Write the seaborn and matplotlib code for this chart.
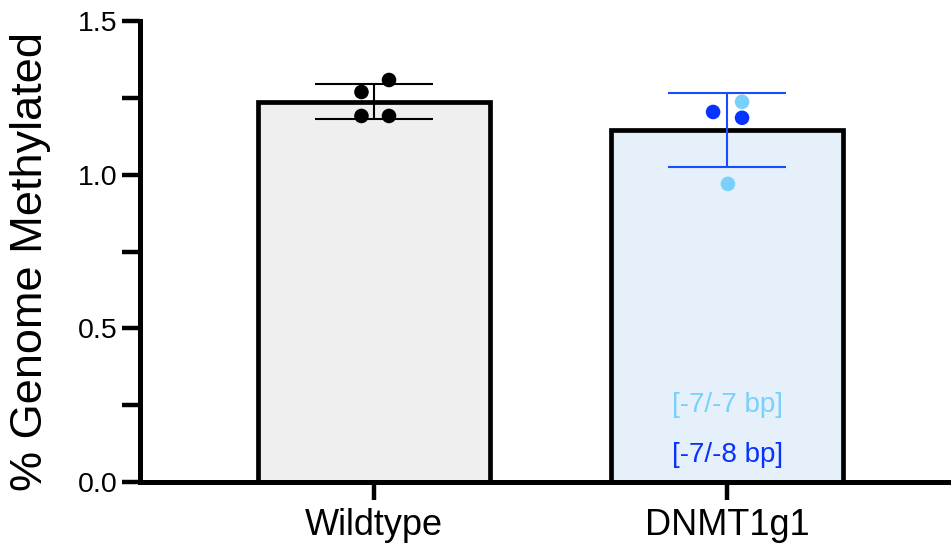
import matplotlib
matplotlib.use("Agg")
import matplotlib.pyplot as plt
import seaborn as sns
import pandas as pd
from matplotlib.ticker import MultipleLocator

# ---- data ----
categories = ["Wildtype", "DNMT1g1"]
bar_means = [1.237, 1.146]
bar_sd = [0.057, 0.121]
wt_points = [1.269, 1.308, 1.191, 1.191]
dn_points = [1.204, 1.185, 1.237, 0.970]
dn_point_group = ["[-7/-8 bp]", "[-7/-8 bp]", "[-7/-7 bp]", "[-7/-7 bp]"]
annot_labels = ["[-7/-7 bp]", "[-7/-8 bp]"]

# ---- style ----
sns.set_theme(style="ticks")
plt.rcParams["font.family"] = ["Liberation Sans", "DejaVu Sans"]
plt.rcParams["text.color"] = "black"
plt.rcParams["axes.labelcolor"] = "black"
plt.rcParams["xtick.color"] = "black"
plt.rcParams["ytick.color"] = "black"

bar_colors = {"Wildtype": "#efefef", "DNMT1g1": "#e2f0fd"}
light_blue = "#79d0fb"
dark_blue = "#0633ff"
err_colors = ["black", "#1a4cff"]
point_colors = {"[-7/-7 bp]": light_blue, "[-7/-8 bp]": dark_blue}
wt_offsets = [-0.036, 0.042, -0.036, 0.042]
dn_offsets = [-0.040, 0.042, 0.042, 0.002]

fig = plt.figure(figsize=(9.53, 5.48), dpi=100)
ax = fig.add_axes([0.147, 0.1204, 0.848, 0.8413])

df = pd.DataFrame({"cat": categories, "val": bar_means})
sns.barplot(data=df, x="cat", y="val", hue="cat", palette=bar_colors,
            legend=False, errorbar=None, width=0.657, edgecolor="black",
            linewidth=3.4, ax=ax, zorder=1)

for i, (m, s) in enumerate(zip(bar_means, bar_sd)):
    ax.errorbar(i, m, yerr=s, fmt="none", ecolor=err_colors[i],
                elinewidth=1.5, capsize=42.5, capthick=1.5, zorder=3)

wt_df = pd.DataFrame({"x": [0 + o for o in wt_offsets], "y": wt_points})
sns.scatterplot(data=wt_df, x="x", y="y", color="black", s=110,
                edgecolor="none", ax=ax, zorder=4)
dn_df = pd.DataFrame({"x": [1 + o for o in dn_offsets], "y": dn_points,
                      "g": dn_point_group})
sns.scatterplot(data=dn_df, x="x", y="y", hue="g", palette=point_colors,
                s=110, edgecolor="none", legend=False, ax=ax, zorder=4)

ax.text(1, 0.25, annot_labels[0], color=light_blue, fontsize=20,
        ha="center", va="center")
ax.text(1, 0.087, annot_labels[1], color=dark_blue, fontsize=20,
        ha="center", va="center")

ax.set_xlim(-0.663, 1.626)
ax.set_ylim(0, 1.5)
ax.set_yticks([0.0, 0.5, 1.0, 1.5])
ax.set_yticklabels(["0.0", "0.5", "1.0", "1.5"])
ax.yaxis.set_minor_locator(MultipleLocator(0.25))
ax.set_xticks([0, 1])
ax.set_xticklabels(categories)
ax.set_xlabel("")
ax.set_ylabel("% Genome Methylated", fontsize=32.5, color="black")
ax.yaxis.set_label_coords(-0.11, 0.478)

for side in ["top", "right"]:
    ax.spines[side].set_visible(False)
for side in ["left", "bottom"]:
    ax.spines[side].set_linewidth(3.6)
    ax.spines[side].set_color("black")

ax.tick_params(axis="y", which="both", length=13, width=3.2, color="black",
               labelcolor="black", labelsize=20.5, pad=3)
ax.tick_params(axis="x", which="major", length=13, width=3.2, color="black",
               labelcolor="black", labelsize=26, pad=6)
ax.tick_params(axis="x", which="minor", length=0)
ax.spines["left"].set_bounds(0, 1.5)

fig.savefig("out.png", dpi=100)
